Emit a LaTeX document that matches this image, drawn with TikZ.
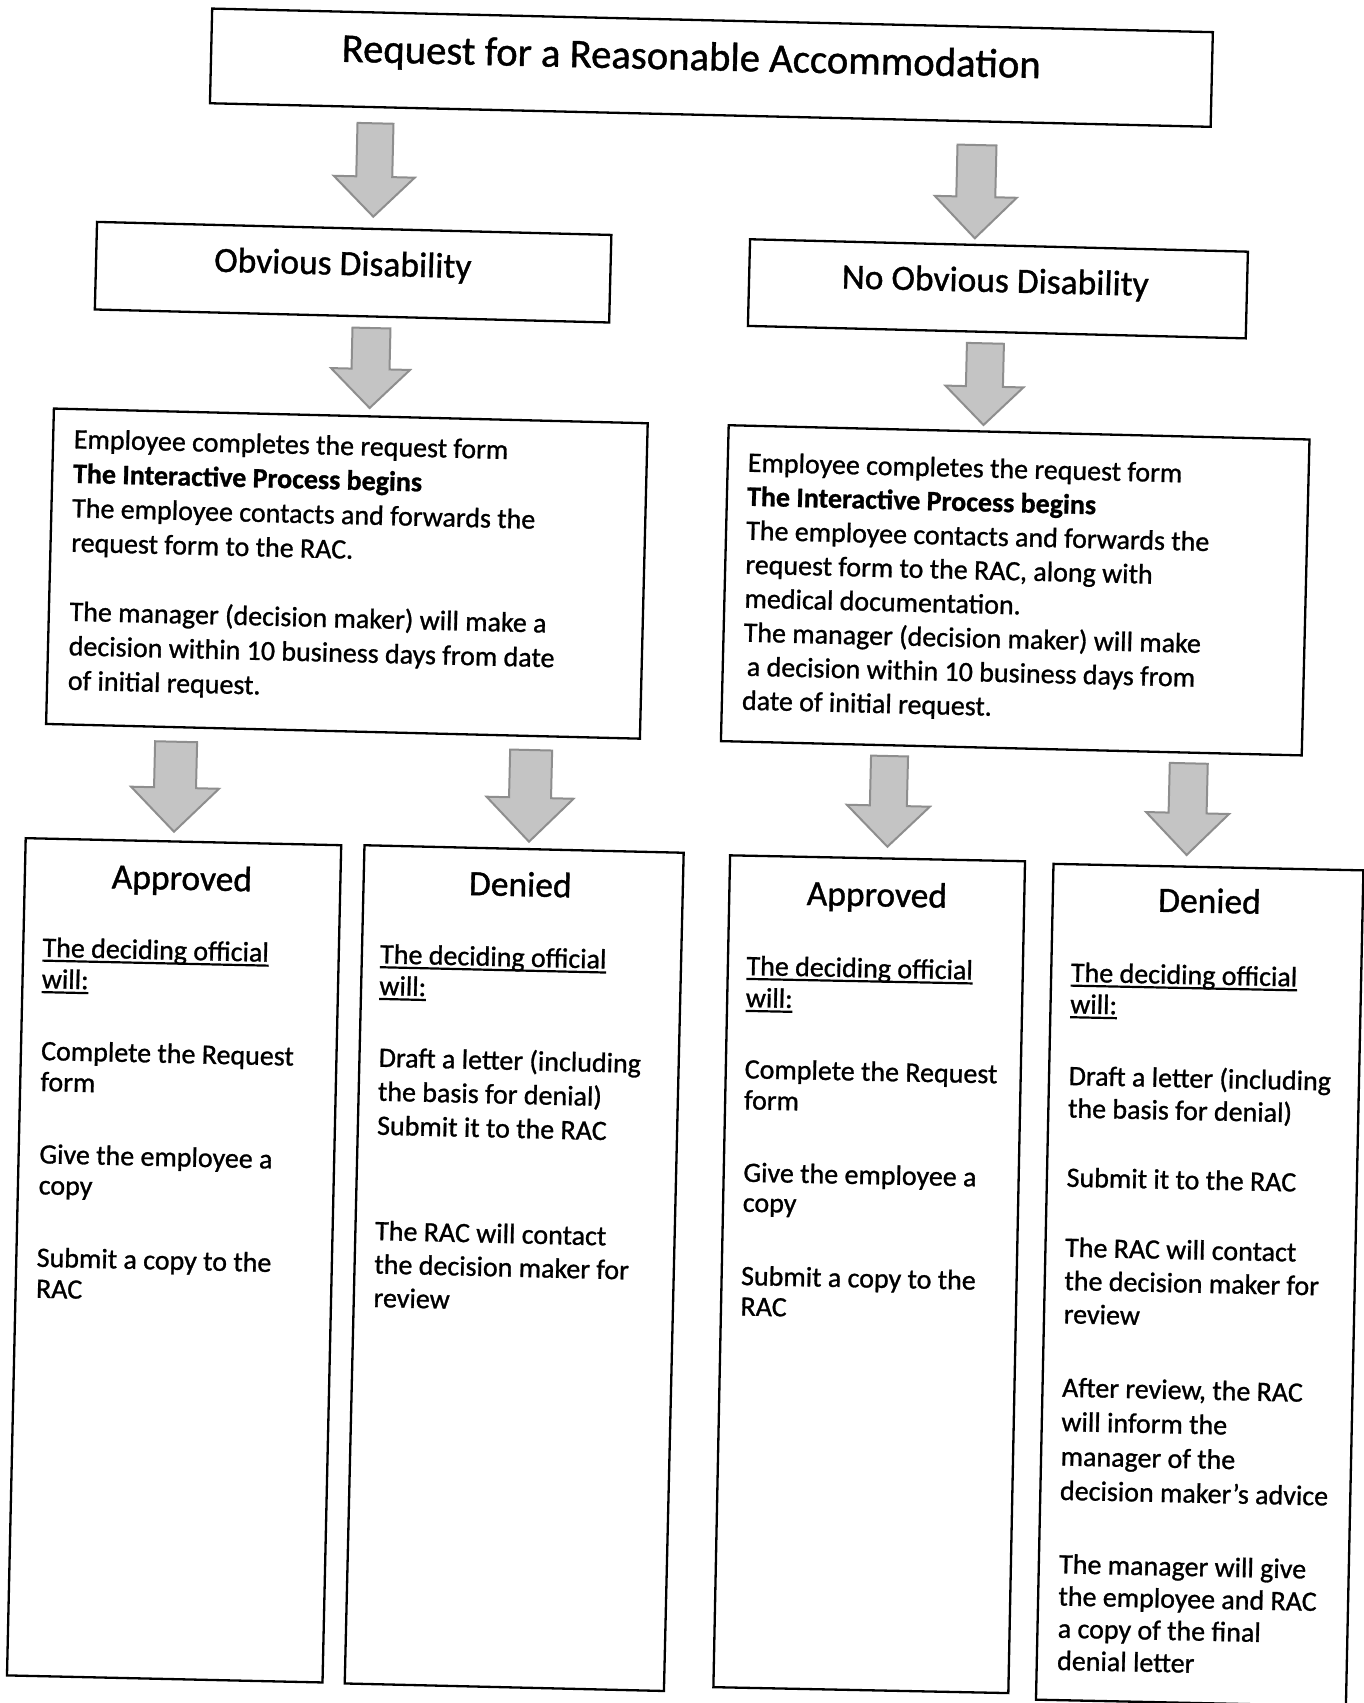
\documentclass[tikz,border=0pt]{standalone}
\usepackage{fontspec}
\setmainfont{Carlito}[FakeBold=1.0]
\definecolor{arrowfill}{HTML}{C4C4C4}
\definecolor{arrowline}{HTML}{8E8E8E}
\newcommand{\myul}[1]{\setbox0\hbox{#1}\rlap{\rule[-5pt]{\wd0}{2.2pt}}\box0}
\newcommand{\blk}[2]{{\fontsize{28}{#1}\selectfont\begin{tabular}[t]{@{}l@{}}#2\end{tabular}}}
% name, tip x, tip y, length, head length, head half width, shaft half width
\newcommand{\fatarrow}[7]{%
  \coordinate (#1) at (#2,#3);
  \begin{scope}[shift={(#1)}, rotate=-1.35]
    \filldraw[fatarr] (0,0) -- (-#6,-#5) -- (-#7,-#5) -- (-#7,-#4) -- (#7,-#4) -- (#7,-#5) -- (#6,-#5) -- cycle;
  \end{scope}}
\tikzset{
  box/.style={draw=black, line width=2.3pt, inner sep=0pt, outer sep=0pt},
  txt/.style={inner sep=0pt, outer sep=0pt, anchor=base west, text=black},
  head/.style={txt, font=\fontsize{35.5}{40}\selectfont},
  fatarr/.style={fill=arrowfill, draw=arrowline, line width=2pt, line join=miter},
}
\begin{document}
\begin{tikzpicture}[x=1pt, y=-1pt]
\fill[white] (0,0) rectangle (1364,1703);
\useasboundingbox (0,0) rectangle (1364,1703);

% title
\node[box, rotate=-1.35, minimum width=1001pt, minimum height=94.7pt] (title) at (711.4,67.7) {};
\node[txt, rotate=-1.35, font=\fontsize{40.7}{48}\selectfont] (titletext) at (341.5,61.7) {Request for a Reasonable Accommodation};

% second level
\node[box, rotate=-1.45, minimum width=514.5pt, minimum height=87.6pt] (obv) at (353.1,272.2) {};
\node[head, rotate=-1.45] (obvtext) at (214,271.7) {Obvious Disability};
\node[box, rotate=-1.43, minimum width=498pt, minimum height=86.7pt] (noobv) at (997.9,288.8) {};
\node[head, rotate=-1.43] (noobvtext) at (841.6,288.3) {No Obvious Disability};

% employee boxes
\node[box, rotate=-1.42, minimum width=594pt, minimum height=315.5pt] (emp1) at (346.9,573.6) {};
\node[txt, rotate=-1.42] (emp1text) at (73.7,448.3) {\blk{34.5}{Employee completes the request form\\
\textbf{The Interactive Process begins}\\
The employee contacts and forwards the\\
request form to the RAC.\\
\\
The manager (decision maker) will make a\\
decision within 10 business days from date\\
of initial request.}};

\node[box, rotate=-1.41, minimum width=581pt, minimum height=316pt] (emp2) at (1015.2,590.3) {};
\node[txt, rotate=-1.41] (emp2text) at (747.7,471.7) {\blk{34}{Employee completes the request form\\
\textbf{The Interactive Process begins}\\
The employee contacts and forwards the\\
request form to the RAC, along with\\
medical documentation.\\
The manager (decision maker) will make\\
\hspace*{4pt}a decision within 10 business days from\\
date of initial request.}};

% bottom box 1
\node[box, rotate=-1.28, minimum width=315.6pt, minimum height=837.5pt] (b1) at (174.1,1260.3) {};
\node[head, rotate=-1.28] (b1h) at (111.6,888.3) {Approved};
\node[txt, rotate=-1.28] (b1t1) at (42.4,956.7) {\blk{31.5}{\myul{The deciding official}\\\myul{will:}}};
\node[txt, rotate=-1.28] (b1t2) at (41,1060) {\blk{31}{Complete the Request\\form}};
\node[txt, rotate=-1.28] (b1t3) at (39.3,1163.3) {\blk{31}{Give the employee a\\copy}};
\node[txt, rotate=-1.28] (b1t4) at (36.6,1266.7) {\blk{31}{Submit a copy to the\\RAC}};

% bottom box 2
\node[box, rotate=-1.35, minimum width=319.3pt, minimum height=838.5pt] (b2) at (514.2,1268.1) {};
\node[head, rotate=-1.35] (b2h) at (468.8,895) {Denied};
\node[txt, rotate=-1.35] (b2t1) at (380,963.3) {\blk{31.7}{\myul{The deciding official}\\\myul{will:}}};
\node[txt, rotate=-1.35] (b2t2) at (378.6,1066.7) {\blk{34}{Draft a letter (including\\the basis for denial)\\Submit it to the RAC}};
\node[txt, rotate=-1.35] (b2t3) at (375,1240) {\blk{33.5}{The RAC will contact\\the decision maker for\\review}};

% bottom box 3
\node[box, rotate=-1.15, minimum width=295pt, minimum height=832pt] (b3) at (869.2,1274.2) {};
\node[head, rotate=-1.15] (b3h) at (806.6,905) {Approved};
\node[txt, rotate=-1.15] (b3t1) at (746.4,975) {\blk{32}{\myul{The deciding official}\\\myul{will:}}};
\node[txt, rotate=-1.15] (b3t2) at (744.6,1078.3) {\blk{31}{Complete the Request\\form}};
\node[txt, rotate=-1.15] (b3t3) at (743.3,1181.7) {\blk{30}{Give the employee a\\copy}};
\node[txt, rotate=-1.15] (b3t4) at (741,1285) {\blk{30.5}{Submit a copy to the\\RAC}};

% bottom box 4
\node[box, rotate=-1.2, minimum width=310pt, minimum height=836pt] (b4) at (1199.7,1285) {};
\node[head, rotate=-1.2] (b4h) at (1158,911.7) {Denied};
\node[txt, rotate=-1.2] (b4t1) at (1070.8,981.7) {\blk{31.6}{\myul{The deciding official}\\\myul{will:}}};
\node[txt, rotate=-1.2] (b4t2) at (1068.6,1085) {\blk{32.5}{Draft a letter (including\\the basis for denial)}};
\node[txt, rotate=-1.2] (b4t3) at (1066.5,1186.7) {\blk{32}{Submit it to the RAC}};
\node[txt, rotate=-1.2] (b4t4) at (1065,1256.7) {\blk{33.3}{The RAC will contact\\the decision maker for\\review}};
\node[txt, rotate=-1.2] (b4t5) at (1062,1396.7) {\blk{34.4}{After review, the RAC\\will inform the\\manager of the\\decision maker’s advice}};
\node[txt, rotate=-1.2] (b4t6) at (1059,1573.3) {\blk{32.2}{The manager will give\\the employee and RAC\\a copy of the final\\denial letter}};

% block arrows
\fatarrow{a1}{373.3}{216.7}{93.4}{40}{40.5}{18}
\fatarrow{a2}{974.8}{238.3}{93.3}{41.5}{41}{19.5}
\fatarrow{a3}{369.6}{408}{80}{39}{39.5}{19}
\fatarrow{a4}{983.5}{425}{81.7}{38.5}{39}{18.5}
\fatarrow{a5}{174}{831.7}{90}{44}{44}{21}
\fatarrow{a6}{529}{841.7}{91.7}{44}{43.5}{21}
\fatarrow{a7}{887.4}{846.7}{90.7}{41}{41.5}{18.5}
\fatarrow{a8}{1186.6}{855}{91.7}{42}{41.5}{19}
\end{tikzpicture}
\end{document}
